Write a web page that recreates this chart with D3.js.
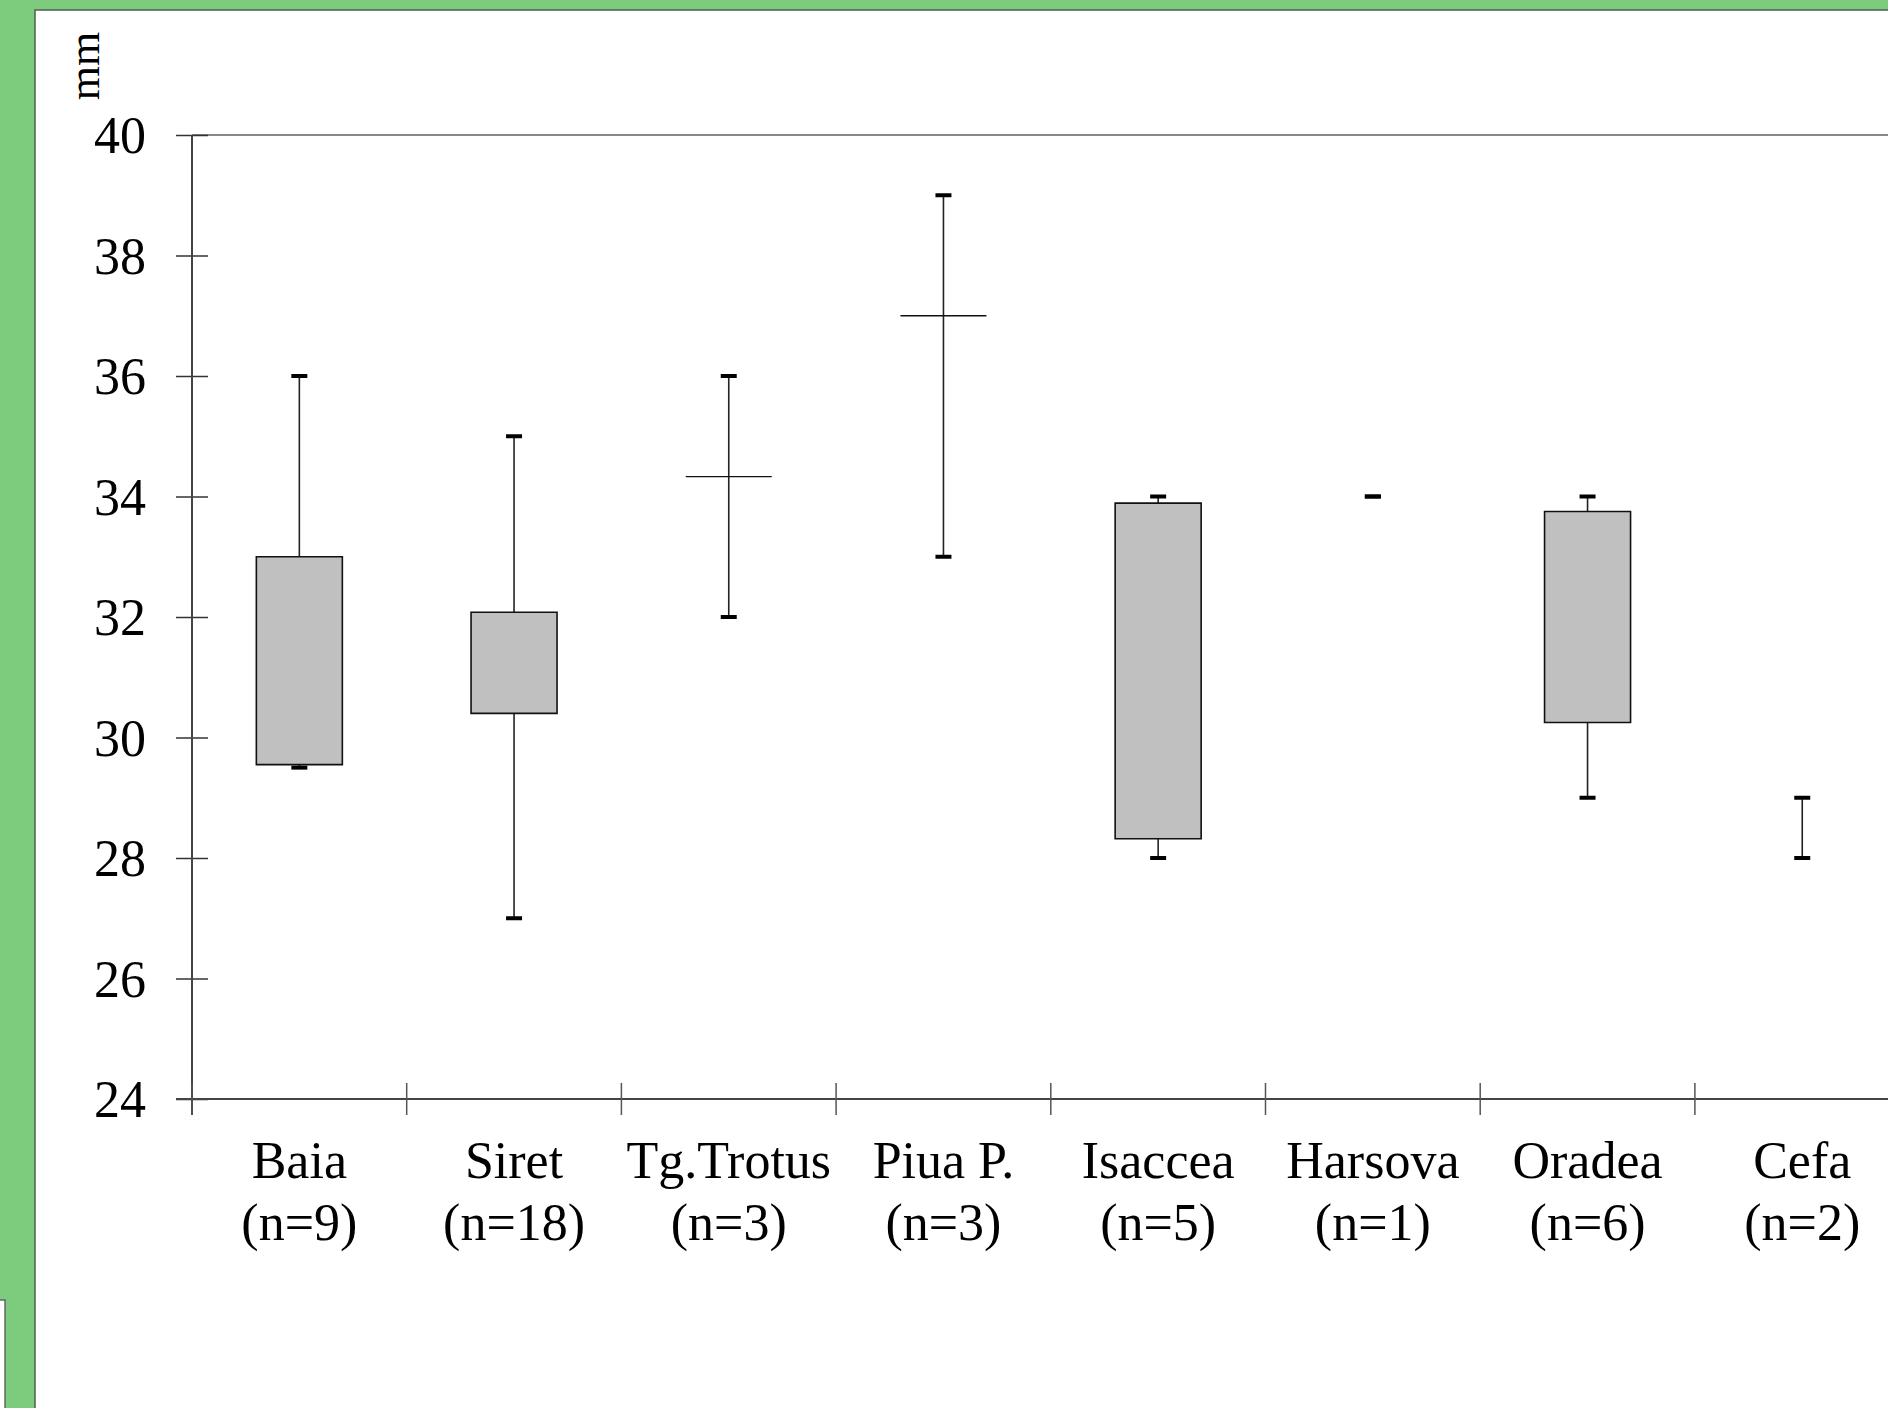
<!DOCTYPE html>
<html>
<head>
<meta charset="utf-8">
<script src="https://cdn.jsdelivr.net/npm/d3@7"></script>
<style>
  body { margin: 0; padding: 0; overflow: hidden; background: #7dcb7d; }
  svg text { font-family: "Liberation Serif", "Times New Roman", serif; fill: #000; }
</style>
</head>
<body>
<svg id="chart" width="1888" height="1408"></svg>
<script>
// values (mm)
var categories = ["Baia", "Siret", "Tg.Trotus", "Piua P.", "Isaccea", "Harsova", "Oradea", "Cefa"];
var counts = [9, 18, 3, 3, 5, 1, 6, 2];
var minVals = [29.5, 27, 32, 33, 28, 34, 29, 28];
var q1Vals = [29.55, 30.4, 34.33, 37, 28.32, null, 30.25, null];
var q3Vals = [33, 32.08, 34.33, 37, 33.89, null, 33.75, null];
var maxVals = [36, 35, 36, 39, 34, 34, 34, 29];
var yTicks = [24, 26, 28, 30, 32, 34, 36, 38, 40];

var svg = d3.select("#chart");

// green frame + white sheet
svg.append("rect").attr("x", 0).attr("y", 0).attr("width", 1888).attr("height", 1408).style("fill", "#7dcb7d");
svg.append("rect").attr("x", 35).attr("y", 10).attr("width", 1900).attr("height", 1500)
  .style("fill", "#fff").style("stroke", "#4f5f4f").style("stroke-width", 1.5);
svg.append("rect").attr("x", -10).attr("y", 1300).attr("width", 15).attr("height", 200)
  .style("fill", "#fff").style("stroke", "#666").style("stroke-width", 1.5);

var plotLeft = 192, bandW = 214.7, plotTop = 135, plotBottom = 1099;

var x = d3.scaleBand()
  .domain(categories)
  .range([plotLeft, plotLeft + bandW * categories.length])
  .padding(0);

var y = d3.scaleLinear()
  .domain([24, 40])
  .range([plotBottom, plotTop]);

var boxW = 86, capW = 16;

// top frame line
svg.append("line")
  .attr("x1", plotLeft).attr("x2", 1888)
  .attr("y1", y(40)).attr("y2", y(40))
  .style("stroke", "#888").style("stroke-width", 2);

// y axis
var yAxis = svg.append("g")
  .attr("transform", "translate(" + plotLeft + ",0)")
  .call(d3.axisLeft(y).tickValues(yTicks).tickSize(16).tickPadding(30).tickFormat(d3.format("d")));
yAxis.select(".domain").remove();
yAxis.selectAll(".tick line").attr("x1", -16).attr("x2", 16).style("stroke", "#333").style("stroke-width", 1.5);
yAxis.selectAll(".tick text")
  .attr("dy", "0.34em")
  .style("font-size", "52px")
  .style("font-family", "Liberation Serif, serif");

svg.append("line")
  .attr("x1", plotLeft).attr("x2", plotLeft)
  .attr("y1", y(40)).attr("y2", y(24) + 16)
  .style("stroke", "#444").style("stroke-width", 2);

// x axis
svg.append("line")
  .attr("x1", plotLeft - 16).attr("x2", 1888)
  .attr("y1", y(24)).attr("y2", y(24))
  .style("stroke", "#444").style("stroke-width", 2);

var bounds = d3.range(categories.length + 1).map(i => x.range()[0] + i * x.step());
svg.append("g").selectAll("line")
  .data(bounds)
  .enter()
  .append("line")
  .attr("x1", d => d).attr("x2", d => d)
  .attr("y1", y(24) - 16).attr("y2", y(24) + 16)
  .style("stroke", "#555").style("stroke-width", 1.5);

var labels = svg.append("g").selectAll("text")
  .data(categories)
  .enter()
  .append("text")
  .attr("x", d => x(d) + x.bandwidth() / 2)
  .attr("y", 1178)
  .attr("text-anchor", "middle")
  .style("font-size", "52px");
labels.append("tspan").text(d => d);
labels.append("tspan")
  .attr("x", d => x(d) + x.bandwidth() / 2)
  .attr("dy", 62)
  .text((d, i) => "(n=" + counts[i] + ")");

// y label
svg.append("text")
  .attr("transform", "translate(99,66) rotate(-90)")
  .attr("text-anchor", "middle")
  .style("font-size", "44px")
  .text("mm");

// box plots
var g = svg.append("g");
categories.forEach(function(c, i) {
  var cx = x(c) + x.bandwidth() / 2;

  // whisker
  g.append("line")
    .attr("x1", cx).attr("x2", cx)
    .attr("y1", y(minVals[i])).attr("y2", y(maxVals[i]))
    .style("stroke", "#222").style("stroke-width", 1.6);

  // box (collapses to a line when q1 == q3)
  if (q1Vals[i] != null) {
    var y1 = y(q3Vals[i]), y2 = y(q1Vals[i]);
    g.append("path")
      .attr("d", "M" + (cx - boxW / 2) + "," + y1 + "H" + (cx + boxW / 2) + "V" + y2 + "H" + (cx - boxW / 2) + "Z")
      .style("fill", "#c0c0c0")
      .style("stroke", "#111")
      .style("stroke-width", y2 - y1 < 1 ? 1.4 : 1.6);
  }

  // caps
  [minVals[i], maxVals[i]].forEach(function(v) {
    g.append("line")
      .attr("x1", cx - capW / 2).attr("x2", cx + capW / 2)
      .attr("y1", y(v)).attr("y2", y(v))
      .style("stroke", "#000").style("stroke-width", 4);
  });
});
</script>
</body>
</html>
